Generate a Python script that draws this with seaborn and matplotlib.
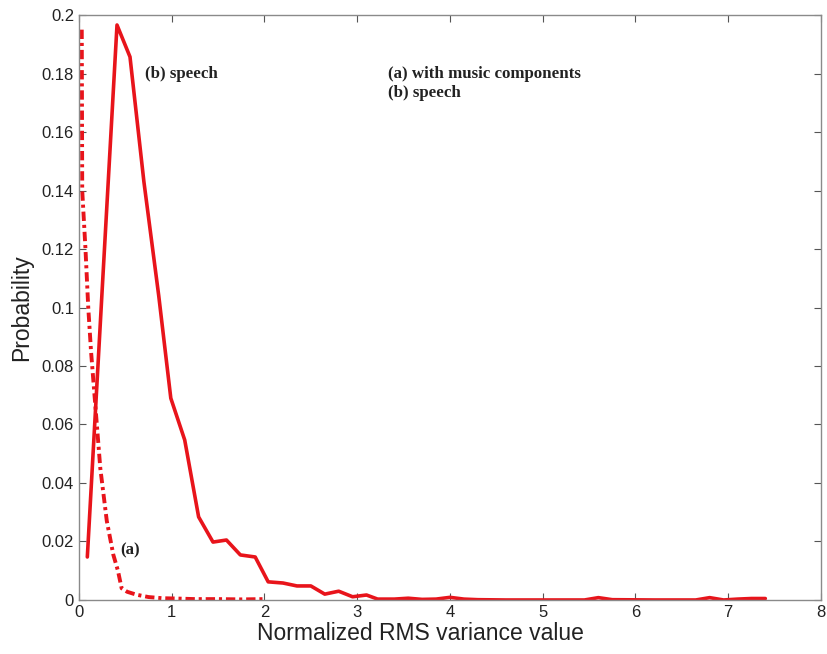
import numpy as np
import pandas as pd
import matplotlib
matplotlib.use("Agg")
import matplotlib.pyplot as plt
import seaborn as sns

# (b) speech: probability of normalized RMS variance value
speech_x = [0.09, 0.25, 0.41, 0.55, 0.70, 0.86, 0.99, 1.14, 1.29, 1.445, 1.59, 1.74,
            1.90, 2.04, 2.20, 2.35, 2.50, 2.65, 2.80, 2.95, 3.10, 3.22, 3.40, 3.55,
            3.70, 3.85, 4.00, 4.15, 4.30, 4.60, 5.00, 5.45, 5.60, 5.75, 6.20, 6.65,
            6.80, 6.95, 7.10, 7.25, 7.40]
speech_p = [0.0147, 0.106, 0.1966, 0.1857, 0.143, 0.104, 0.069, 0.0547, 0.0284, 0.0198,
            0.0205, 0.0154, 0.0147, 0.0062, 0.0058, 0.0048, 0.0048, 0.0020, 0.0030,
            0.0011, 0.0017, 0.0003, 0.0003, 0.0006, 0.0002, 0.0003, 0.0009, 0.0003,
            0.0001, 0.0, 0.0, 0.0, 0.0008, 0.0001, 0.0, 0.0, 0.0008, 0.0, 0.0003,
            0.0005, 0.0005]

# (a) with music components
music_x = [0.03, 0.035, 0.07, 0.10, 0.13, 0.17, 0.23, 0.30, 0.37, 0.42, 0.46, 0.52,
           0.62, 0.75, 0.90, 1.05, 1.25, 1.50, 1.75, 2.00]
music_p = [0.195, 0.14, 0.12, 0.10, 0.085, 0.069, 0.045, 0.027, 0.0155, 0.010, 0.004,
           0.0028, 0.0018, 0.0010, 0.0006, 0.0005, 0.0003, 0.0003, 0.0002, 0.0003]

x_ticks = [0, 1, 2, 3, 4, 5, 6, 7, 8]
y_ticks = [0, 0.02, 0.04, 0.06, 0.08, 0.1, 0.12, 0.14, 0.16, 0.18, 0.2]
y_tick_labels = ["0", "0.02", "0.04", "0.06", "0.08", "0.1", "0.12", "0.14",
                 "0.16", "0.18", "0.2"]

sns.set_style("white")
plt.rcParams["font.family"] = ["Liberation Sans", "DejaVu Sans"]

fig = plt.figure(figsize=(8.27, 6.54), dpi=100)
ax = fig.add_axes([0.0955, 0.0826, 0.8972, 0.8944])

speech = pd.DataFrame({"x": speech_x, "p": speech_p})
music = pd.DataFrame({"x": music_x, "p": music_p})

red = "#e8141b"
sns.lineplot(data=speech, x="x", y="p", ax=ax, color=red, linewidth=2.6,
             estimator=None, sort=False)
sns.lineplot(data=music, x="x", y="p", ax=ax, color=red, linewidth=2.8,
             linestyle=(0, (2.4, 1.0, 0.8, 1.0)), estimator=None, sort=False)

ax.set_xlim(0, 8)
ax.set_ylim(0, 0.2)
ax.set_xticks(x_ticks)
ax.set_xticklabels([str(t) for t in x_ticks])
ax.set_yticks(y_ticks)
ax.set_yticklabels(y_tick_labels)
ax.tick_params(direction="in", length=5, width=0.8, colors="#555555",
               labelcolor="#222222", labelsize=12, top=True, right=True,
               bottom=True, left=True, labeltop=False, labelright=False)
for s in ax.spines.values():
    s.set_color("#8a8a8a")
    s.set_linewidth(1.0)

ax.set_xlabel("Normalized RMS variance value", fontsize=16.5, color="#222222")
ax.set_ylabel("Probability", fontsize=16.5, color="#222222")
ax.xaxis.set_label_coords(0.46, -0.038)
ax.yaxis.set_label_coords(-0.062, 0.5)

serif = ["Liberation Serif", "DejaVu Serif"]
txt = dict(family=serif, fontweight="bold", fontsize=12.2, color="#222222",
           va="center", ha="left")
ax.text(0.71, 0.1800, "(b) speech", **txt)
ax.text(3.33, 0.1797, "(a) with music components", **txt)
ax.text(3.33, 0.1732, "(b) speech", **txt)
ax.text(0.44, 0.0168, "(a)", **txt)

fig.savefig("out.png", dpi=100)
